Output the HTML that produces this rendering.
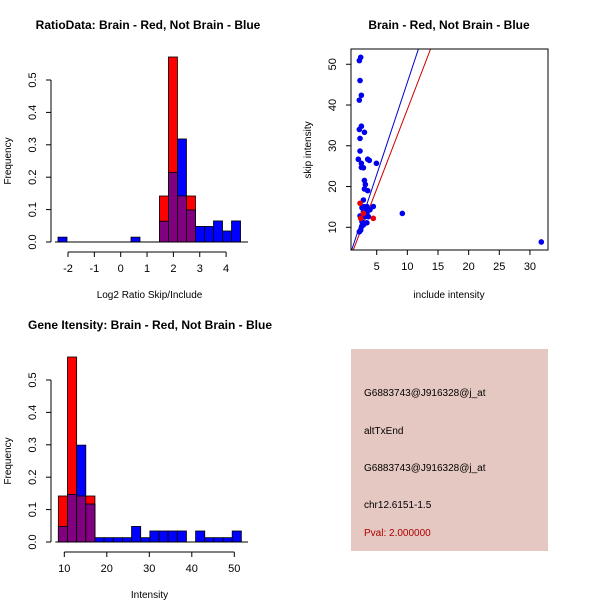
<!DOCTYPE html>
<html><head><meta charset="utf-8"><style>
body{margin:0;background:#fff}
svg{display:block;font-family:"Liberation Sans",sans-serif}
</style></head><body>
<svg id="c" width="600" height="600" viewBox="0 0 600 600" xmlns="http://www.w3.org/2000/svg">
<text x="148" y="29" font-size="12" font-weight="bold" text-anchor="middle">RatioData: Brain - Red, Not Brain - Blue</text>
<text x="449" y="29" font-size="12" font-weight="bold" text-anchor="middle">Brain - Red, Not Brain - Blue</text>
<text x="150" y="329" font-size="12" font-weight="bold" text-anchor="middle">Gene Itensity: Brain - Red, Not Brain - Blue</text>
<g id="g1"></g>
<g id="g2"></g>
<g id="g3"></g>
<g>
<rect x="351" y="349" width="197" height="202" fill="#e5c8c1"/>
<text x="364" y="396" font-size="10">G6883743@J916328@j_at</text>
<text x="364" y="434" font-size="10">altTxEnd</text>
<text x="364" y="471" font-size="10">G6883743@J916328@j_at</text>
<text x="364" y="508" font-size="10">chr12.6151-1.5</text>
<text x="364" y="536" font-size="10" fill="#b00000">Pval: 2.000000</text>
</g>
</svg>
<script>
// Ratio histogram data
const ratioLefts = [-2.38, 0.39, 1.47, 1.812, 2.154, 2.496, 2.838, 3.18, 3.522, 3.864, 4.206];
const ratioRed   = [0, 0, 0.142, 0.571, 0.142, 0.142, 0, 0, 0, 0, 0];
const ratioBlue  = [0.015, 0.015, 0.064, 0.215, 0.318, 0.099, 0.048, 0.048, 0.065, 0.034, 0.065];
const ratioXTicks = [-2, -1, 0, 1, 2, 3, 4];
const freqTicks = ["0.0", "0.1", "0.2", "0.3", "0.4", "0.5"];
// Intensity histogram data
const intStart = 8.6, intWidth = 2.153;
const intRed  = [0.142, 0.571, 0.142, 0.142, 0,0,0,0,0,0,0,0,0,0,0,0,0,0,0,0];
const intBlue = [0.048, 0.147, 0.299, 0.117, 0.0134, 0.0134, 0.0134, 0.0134, 0.048, 0.0134, 0.034, 0.034, 0.034, 0.034, 0, 0.034, 0.0134, 0.0134, 0.0134, 0.034];
const intXTicks = [10, 20, 30, 40, 50];
// Scatter data
const blueX = [2.39,2.17,2.28,2.5,2.17,2.5,2.17,3.0,2.28,2.28,2.0,3.53,3.8,2.5,4.95,2.5,2.83,3.0,3.15,3.0,3.53,2.83,2.6,3.4,4.45,3.9,2.83,9.18,2.28,3.1,3.64,2.6,3.4,2.83,2.39,2.17,2.55,31.85,3.1,3.4,2.83];
const blueY = [51.7,50.9,46.0,42.4,41.2,34.8,34.0,33.3,31.8,28.7,26.7,26.7,26.4,25.7,25.7,24.7,24.6,21.5,20.5,19.4,19.0,16.7,14.8,15.1,15.1,14.3,13.8,13.4,12.8,12.6,12.6,11.4,11.1,10.6,9.3,8.9,10.2,6.4,14.3,13.4,15.1];
const redX = [2.28, 4.45, 2.39, 2.83];
const redY = [15.9, 12.2, 12.2, 13.4];
const lineBlue = [0.26, 4.53];  // intercept, slope
const lineRed = [-0.18, 3.91];
const scXTicks = [5, 10, 15, 20, 25, 30];
const scYTicks = [10, 20, 30, 40, 50];

const NS = "http://www.w3.org/2000/svg";
function mk(p, tag, a, txt){const e=document.createElementNS(NS,tag);for(const k in a)e.setAttribute(k,a[k]);if(txt!==undefined)e.textContent=txt;p.appendChild(e);return e;}

function hist(g, lefts, width, red, blue, xs, ys, xTicks, xLabel, axisEnd){
  for(let i=0;i<lefts.length;i++){
    const x0=xs(lefts[i]), x1=xs(lefts[i]+width);
    const r=red[i], b=blue[i], m=Math.min(r,b);
    if(r>0){const e=mk(g,"rect",{x:x0,y:ys(r),width:x1-x0,height:ys(0)-ys(r),fill:"#ff0000",stroke:"#000","stroke-width":0.8});
      
      }
    if(b>0){const e=mk(g,"rect",{x:x0,y:ys(b),width:x1-x0,height:ys(0)-ys(b),fill:"#0000ff",stroke:"#000","stroke-width":0.8});
      
      }
    if(m>0){const e=mk(g,"rect",{x:x0,y:ys(m),width:x1-x0,height:ys(0)-ys(m),fill:"#800080",stroke:"#000","stroke-width":0.8});
      
      }
  }
  const y0=ys(0);
  mk(g,"line",{x1:xs(lefts[0])-3,x2:axisEnd,y1:y0,y2:y0,stroke:"#000"});
  const yax=51;
  mk(g,"line",{x1:yax,x2:yax,y1:ys(0),y2:ys(0.5),stroke:"#000"});
  freqTicks.forEach(t=>{const v=parseFloat(t),y=ys(v);
    mk(g,"line",{x1:yax-5,x2:yax,y1:y,y2:y,stroke:"#000"});
    const lx=yax-15;
    const e=mk(g,"text",{x:lx,y:y,"font-size":11,"text-anchor":"middle",transform:`rotate(-90 ${lx} ${y})`},t);
    
    });
  mk(g,"text",{x:11,y:ys(0.25),"font-size":10,"text-anchor":"middle",transform:`rotate(-90 11 ${ys(0.25)})`},"Frequency");
  const xa=y0+10;
  mk(g,"line",{x1:xs(xTicks[0]),x2:xs(xTicks[xTicks.length-1]),y1:xa,y2:xa,stroke:"#000"});
  xTicks.forEach(t=>{const x=xs(t);
    mk(g,"line",{x1:x,x2:x,y1:xa,y2:xa+5,stroke:"#000"});
    const e=mk(g,"text",{x:x,y:xa+20,"font-size":11,"text-anchor":"middle"},String(t));
    
    });
  mk(g,"text",{x:(51+axisEnd)/2,y:xa+46,"font-size":10,"text-anchor":"middle"},xLabel);
}

{const g=document.getElementById("g1");
 const xs=v=>68+(v+2)*26.35, ys=v=>242-v*324;
 hist(g, ratioLefts, 0.342, ratioRed, ratioBlue, xs, ys, ratioXTicks, "Log2 Ratio Skip/Include", 248);}
{const g=document.getElementById("g3");
 const xs=v=>64.3+(v-10)*4.25, ys=v=>542-v*324;
 const lefts=intBlue.map((_,i)=>intStart+i*intWidth);
 hist(g, lefts, intWidth, intRed, intBlue, xs, ys, intXTicks, "Intensity", 248);}
{const g=document.getElementById("g2");
 const L=351,R=548,T=49,B=250;
 const xs=v=>376.7+(v-5)*6.13, ys=v=>227.3-(v-10)*4.076;
 const inv=x=>(x-376.7)/6.13+5;
 mk(g,"clipPath",{id:"clp"}).appendChild(document.createElementNS(NS,"rect"));
 const cr=g.querySelector("#clp rect");cr.setAttribute("x",L);cr.setAttribute("y",T);cr.setAttribute("width",R-L);cr.setAttribute("height",B-T);
 [[lineBlue,"#0000cc"],[lineRed,"#cc0000"]].forEach(([ln,col])=>{
   const xa=inv(L),xb=inv(R);
   const e=mk(g,"line",{x1:L,y1:ys(ln[0]+ln[1]*xa),x2:R,y2:ys(ln[0]+ln[1]*xb),stroke:col,"clip-path":"url(#clp)"});
   
   });
 blueX.forEach((x,i)=>{const e=mk(g,"circle",{cx:xs(x),cy:ys(blueY[i]),r:2.8,fill:"#0000ee"});
   
   });
 redX.forEach((x,i)=>{const e=mk(g,"circle",{cx:xs(x),cy:ys(redY[i]),r:2.8,fill:"#ee0000"});
   
   });
 mk(g,"rect",{x:L,y:T,width:R-L,height:B-T,fill:"none",stroke:"#000"});
 scXTicks.forEach(t=>{const x=xs(t);mk(g,"line",{x1:x,x2:x,y1:B,y2:B+5,stroke:"#000"});
   const e=mk(g,"text",{x:x,y:B+20,"font-size":11,"text-anchor":"middle"},String(t));
   
   });
 scYTicks.forEach(t=>{const y=ys(t);mk(g,"line",{x1:L-5,x2:L,y1:y,y2:y,stroke:"#000"});
   const lx=L-15;
   const e=mk(g,"text",{x:lx,y:y,"font-size":11,"text-anchor":"middle",transform:`rotate(-90 ${lx} ${y})`},String(t));
   
   });
 mk(g,"text",{x:449,y:298,"font-size":10,"text-anchor":"middle"},"include intensity");
 mk(g,"text",{x:311,y:150,"font-size":10,"text-anchor":"middle",transform:"rotate(-90 311 150)"},"skip intensity");
}
</script>
</body></html>
